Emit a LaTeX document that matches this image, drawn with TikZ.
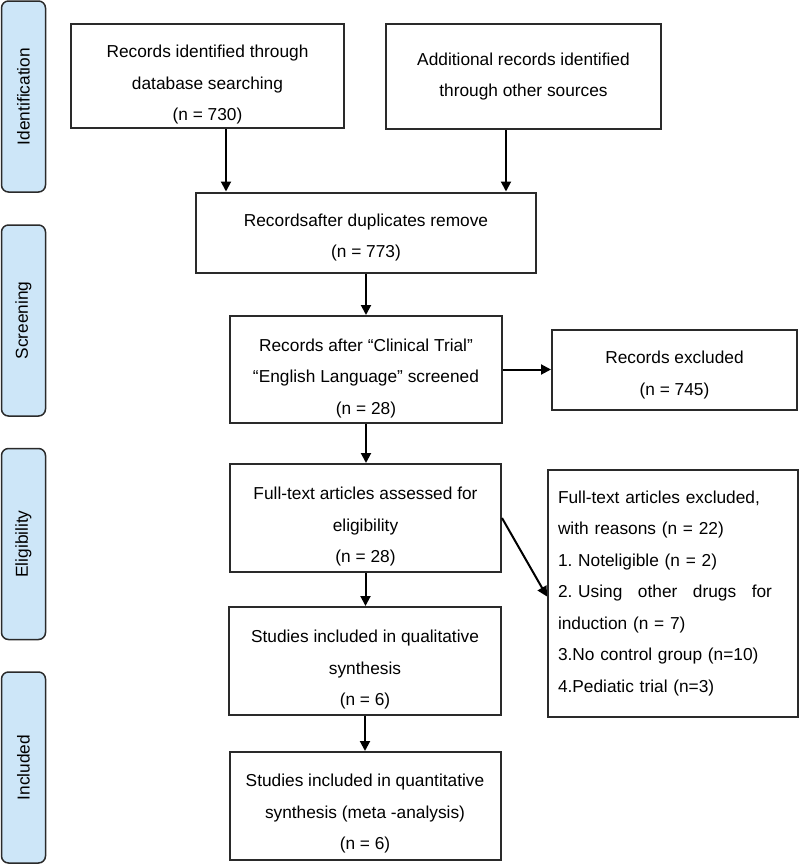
\documentclass[tikz,border=0pt]{standalone}
\usepackage{fontspec}
\setmainfont{Liberation Sans}
\usetikzlibrary{arrows.meta}
\definecolor{tabblue}{HTML}{CDE6F8}
\definecolor{edge}{HTML}{2A2A2A}
\newcommand{\topgap}[1]{\rule{0pt}{#1pt}}
\begin{document}
\frenchspacing
\begin{tikzpicture}[x=1pt,y=-1pt,
        font=\fontsize{17.3}{31.5}\selectfont,
        box/.style={draw=edge, line width=2pt, inner sep=0pt, align=center},
        phase/.style={draw=edge, line width=1.5pt, fill=tabblue, rounded corners=7pt,
            rotate=90, minimum width=191pt, minimum height=44pt, inner sep=0pt},
        arr/.style={line width=2pt, -{Triangle[length=10pt,width=10pt]}}]
        \useasboundingbox (0,0) rectangle (800,865);

        \node (tabid) at (23.5, 96.5) [phase] {Identification};
        \node (tabscr) at (23.5, 320.5) [phase] {Screening};
        \node (tabelig) at (23.5, 544) [phase] {Eligibility};
        \node (tabincl) at (23.5, 767.5) [phase] {Included};

        \node (recdb) at (207.5, 76) [box, minimum width=273pt, minimum height=104pt]
            {\topgap{30.5}Records identified through\\database searching\\(n = 730)};
        \node (recother) at (523.5, 76.5) [box, minimum width=275pt, minimum height=105pt]
            {Additional records identified\\through other sources};
        \node (dedup) at (366, 232.5) [box, minimum width=340pt, minimum height=80pt]
            {\topgap{22.5}Recordsafter duplicates remove\\(n = 773)};
        \node (screened) at (366, 369.5) [box, minimum width=272pt, minimum height=107pt]
            {\topgap{30.5}Records after “Clinical Trial”\\“English Language” screened\\(n = 28)};
        \node (excluded) at (674.5, 370) [box, minimum width=245pt, minimum height=80pt]
            {\topgap{22.5}Records excluded\\(n = 745)};
        \node (fulltext) at (365.5, 518) [box, minimum width=271pt, minimum height=108pt]
            {\topgap{30.5}Full-text articles assessed for\\eligibility\\(n = 28)};
        \node (ftexcl) at (673, 593.5) [box, align=left, text width=230pt,
                minimum width=250pt, minimum height=247pt]
            {Full-text articles excluded,\\with reasons (n = 22)\\1. Noteligible (n = 2)\\
             \leavevmode\hbox to 214pt{2.\ Using\hfil other\hfil drugs\hfil for}\\induction (n = 7)\\
             3.No control group (n=10)\\4.Pediatic trial (n=3)};
        \node (qual) at (365, 661) [box, minimum width=272pt, minimum height=108pt]
            {\topgap{30.5}Studies included in qualitative\\synthesis\\(n = 6)};
        \node (quant) at (365, 806) [box, minimum width=271pt, minimum height=108pt]
            {\topgap{28.5}Studies included in quantitative\\synthesis (meta -analysis)\\(n = 6)};

        \draw [arr] ([xshift=18.5]recdb.south) -- ([xshift=18.5]recdb.south |- dedup.north);
        \draw [arr] ([xshift=-17.5]recother.south) -- ([xshift=-17.5]recother.south |- dedup.north);
        \draw [arr] (dedup.south) -- (dedup.south |- screened.north);
        \draw [arr] (screened.east) -- (screened.east -| excluded.west);
        \draw [arr] (screened.south) -- (screened.south |- fulltext.north);
        \draw [arr] (fulltext.east) -- ([yshift=-3]ftexcl.west);
        \draw [arr] (fulltext.south) -- (fulltext.south |- qual.north);
        \draw [arr] (qual.south) -- (qual.south |- quant.north);
    \end{tikzpicture}
\end{document}
